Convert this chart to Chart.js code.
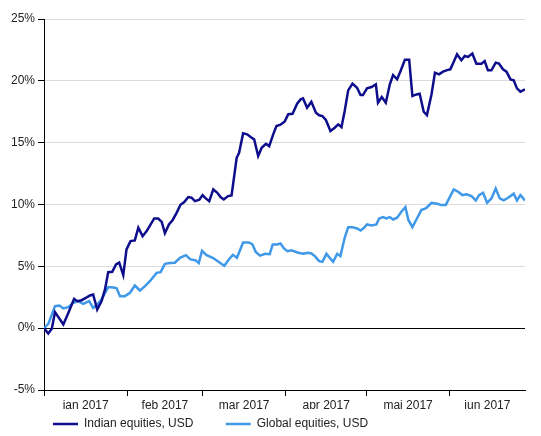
<!DOCTYPE html>
<html lang="no">
<head>
<meta charset="UTF-8" />
<title>Indian vs global equities, 2017</title>
<script src="https://cdn.jsdelivr.net/npm/chart.js"></script>
<style>
  html, body { margin: 0; padding: 0; background: #fff; }
  #wrap { width: 541px; height: 436px; }
</style>
</head>
<body>
<div id="wrap"><canvas id="chart"></canvas></div>
<script>
// x = days since 1 jan 2017, y = cumulative return in %
const indianDays = [0, 1.6, 2.9, 4.1, 7.2, 9.0, 11.2, 12.4, 14.0, 15.6, 17.1, 18.3, 19.8, 21.4, 22.7, 23.9, 25.4, 26.8, 28.0, 29.5,
  30.7, 32.2, 33.8, 35.1, 36.7, 38.2, 39.7, 41.0, 42.5, 43.8, 45.0, 46.5, 47.9, 49.3, 50.8, 52.2, 53.7, 54.9, 56.2, 57.8,
  59.0, 60.2, 61.5, 63.0, 64.5, 65.7, 66.9, 68.5, 69.8, 71.7, 72.6, 74.1, 75.6, 76.9, 78.2, 79.7, 81.0, 82.6, 83.8, 85.3,
  86.5, 88.0, 89.6, 90.9, 92.5, 94.2, 95.5, 96.4, 97.9, 99.5, 101.2, 102.4, 103.6, 104.9, 106.6, 108.2, 109.5, 110.7, 111.9, 113.2,
  114.8, 116.5, 117.8, 118.7, 120.2, 121.9, 123.5, 124.3, 125.7, 127.2, 128.7, 129.9, 131.4, 132.7, 134.3, 135.9, 137.1, 138.6, 139.8, 141.3,
  142.5, 144.2, 145.5, 147.0, 148.5, 150.0, 151.2, 152.5, 153.7, 155.3, 156.6, 157.8, 159.4, 160.9, 162.8, 164.0, 165.2, 166.5, 168.1, 169.3,
  170.8, 172.1, 173.6, 174.8, 176.0, 177.3, 179];
const indianValues = [0, -0.43, -0.05, 1.3, 0.3, 1.2, 2.37, 2.18, 2.26, 2.45, 2.64, 2.72, 1.5, 2.18, 3.13, 4.53, 4.56, 5.15, 5.3, 4.29,
  6.37, 7.04, 7.1, 8.12, 7.44, 7.85, 8.39, 8.87, 8.87, 8.6, 7.68, 8.39, 8.75, 9.3, 9.98, 10.2, 10.6, 10.55, 10.27, 10.38,
  10.76, 10.49, 10.27, 11.22, 10.95, 10.6, 10.41, 10.68, 10.73, 13.78, 14.18, 15.75, 15.67, 15.45, 15.27, 13.92, 14.59, 14.91, 14.72, 15.67,
  16.34, 16.45, 16.72, 17.3, 17.34, 18.15, 18.5, 18.58, 17.82, 18.31, 17.42, 17.21, 17.15, 16.83, 15.94, 16.21, 16.48, 16.26, 17.56, 19.23,
  19.77, 19.44, 18.85, 18.85, 19.39, 19.5, 19.72, 18.23, 18.69, 18.23, 19.72, 20.47, 20.12, 20.79, 21.7, 21.7, 18.77, 18.9, 18.96, 17.5,
  17.23, 18.9, 20.66, 20.52, 20.74, 20.87, 20.93, 21.55, 22.14, 21.66, 22.01, 21.93, 22.2, 21.39, 21.39, 21.6, 20.85, 20.85, 21.47, 21.39,
  20.93, 20.74, 20.12, 20.04, 19.39, 19.12, 19.31];

const globalDays = [0, 1.6, 4.1, 5.7, 7.2, 9.0, 10.9, 12.7, 14.6, 16.8, 18.3, 19.8, 21.4, 23.9, 25.8, 27.0, 28.3, 30.1, 32.0, 33.8,
  35.7, 37.6, 39.4, 41.9, 43.4, 45.0, 46.9, 48.7, 50.6, 52.8, 54.5, 56.3, 57.6, 58.8, 60.5, 62.8, 67.1, 69.0, 70.3, 71.8,
  74.1, 76.2, 77.5, 78.8, 80.4, 82.3, 84.0, 85.1, 86.7, 88.0, 89.3, 90.6, 92.1, 94.6, 96.4, 98.3, 99.5, 100.8, 102.4, 103.6,
  105.1, 107.6, 109.1, 110.3, 111.9, 113.2, 114.8, 116.5, 117.8, 119.0, 120.2, 121.9, 123.7, 124.7, 126.2, 127.4, 128.7, 129.9, 131.4, 133.0,
  134.5, 135.6, 137.1, 138.6, 140.4, 142.2, 144.2, 146.3, 147.9, 149.5, 151.0, 152.5, 154.1, 155.7, 157.2, 159.1, 160.7, 161.9, 163.4, 164.9,
  166.5, 168.1, 169.6, 171.1, 172.7, 174.8, 176.0, 177.3, 179];
const globalValues = [0, 0.35, 1.78, 1.83, 1.59, 1.7, 2.05, 2.18, 1.97, 2.18, 1.64, 1.91, 2.32, 3.32, 3.29, 3.24, 2.59, 2.59, 2.86, 3.45,
  3.05, 3.4, 3.8, 4.47, 4.53, 5.2, 5.26, 5.29, 5.69, 5.9, 5.56, 5.5, 5.27, 6.26, 5.91, 5.69, 5.05, 5.62, 5.93, 5.69,
  6.93, 6.93, 6.8, 6.17, 5.87, 6.02, 5.98, 6.77, 6.77, 6.85, 6.45, 6.23, 6.29, 6.1, 6.01, 6.1, 6.04, 5.83, 5.42, 5.37,
  6.01, 5.37, 6.01, 5.83, 7.31, 8.17, 8.17, 8.06, 7.9, 8.1, 8.39, 8.31, 8.39, 8.87, 8.98, 8.87, 8.98, 8.79, 8.93, 9.41,
  9.79, 8.75, 8.17, 8.79, 9.55, 9.7, 10.14, 10.06, 9.95, 9.95, 10.6, 11.22, 11.03, 10.76, 10.82, 10.68, 10.33, 10.76, 10.95, 10.14,
  10.49, 11.3, 10.49, 10.33, 10.55, 10.87, 10.33, 10.76, 10.33];

const monthStarts = [0, 31, 59, 90, 120, 151];
const monthMids = [15.5, 45, 74.5, 105, 135.5, 165];
const monthLabels = ['jan 2017', 'feb 2017', 'mar 2017', 'apr 2017', 'mai 2017', 'jun 2017'];
const yTicks = [-5, 0, 5, 10, 15, 20, 25];
const lastDay = 179;

const toPoints = (xs, ys) => xs.map((x, i) => ({ x: x, y: ys[i] }));

Chart.defaults.font.family = 'Arial, "Liberation Sans", sans-serif';
Chart.defaults.font.size = 12;
Chart.defaults.color = '#222';

new Chart(document.getElementById('chart'), {
  type: 'line',
  data: {
    datasets: [{
      label: 'Indian equities, USD',
      data: toPoints(indianDays, indianValues),
      borderColor: '#0e0e8c',
      backgroundColor: '#0e0e8c',
      borderWidth: 2.5,
      pointRadius: 0,
      tension: 0
    }, {
      label: 'Global equities, USD',
      data: toPoints(globalDays, globalValues),
      borderColor: '#3f98e8',
      backgroundColor: '#3f98e8',
      borderWidth: 2.5,
      pointRadius: 0,
      tension: 0
    }]
  },
  options: {
    responsive: true,
    maintainAspectRatio: false,
    animation: false,
    layout: { padding: { top: 19, right: 16, left: 11, bottom: 0 } },
    scales: {
      x: {
        type: 'linear',
        min: 0, max: lastDay,
        weight: 0,
        afterBuildTicks: s => { s.ticks = monthStarts.map(v => ({ value: v })); },
        ticks: { display: false },
        grid: { display: true, drawOnChartArea: false, drawTicks: true, tickLength: 6, tickColor: '#000' },
        border: { display: true, color: '#000' }
      },
      x2: {
        type: 'linear',
        position: 'bottom',
        min: 0, max: lastDay,
        weight: 1,
        afterBuildTicks: s => { s.ticks = monthMids.map(v => ({ value: v })); },
        afterFit: s => { s.height = 13; },
        ticks: { autoSkip: false, maxRotation: 0, padding: 2, callback: (v, i) => monthLabels[i] },
        grid: { display: false, drawTicks: false },
        border: { display: false }
      },
      y: {
        min: -5, max: 25,
        afterBuildTicks: s => { s.ticks = yTicks.map(v => ({ value: v })); },
        afterFit: s => { s.width = 33; },
        ticks: { padding: 3, callback: v => v + '%' },
        grid: {
          color: c => (c.tick && c.tick.value === 0 ? '#000' : '#dcdcdc'),
          tickColor: '#000',
          tickLength: 6
        },
        border: { display: true, color: '#000' }
      }
    },
    plugins: {
      tooltip: { enabled: false },
      legend: {
        position: 'bottom',
        align: 'start',
        fullSize: false,
        maxHeight: 27,
        labels: {
          usePointStyle: true,
          pointStyle: 'line',
          pointStyleWidth: 25,
          padding: 9,
          color: '#222',
          generateLabels: chart => {
            const items = Chart.defaults.plugins.legend.labels.generateLabels(chart);
            items.forEach((it, i) => { if (i < items.length - 1) it.text += '\u00a0'.repeat(7); });
            return items;
          }
        }
      }
    }
  }
});
</script>
</body>
</html>
